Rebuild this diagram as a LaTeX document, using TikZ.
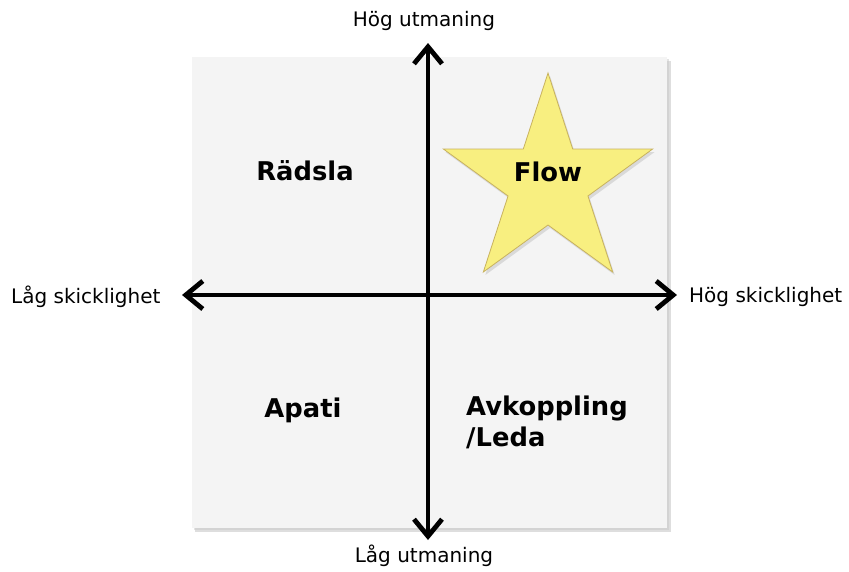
\documentclass[tikz,border=0pt]{standalone}
\usepackage{fontspec}
\setmainfont{DejaVu Sans}
\usetikzlibrary{arrows.meta}
\definecolor{panel}{HTML}{F4F4F4}
\definecolor{panelshadow}{HTML}{C8C8C8}
\definecolor{staryellow}{HTML}{F8EF80}
\definecolor{staredge}{HTML}{C8B25E}
\tikzset{barbtip/.tip={Straight Barb[length=17pt,width=28pt,line width=4.8pt]}}
\begin{document}
\begin{tikzpicture}[x=1pt,y=-1pt,
  axis/.style={line width=4.8pt, black, barbtip-barbtip},
  axislabel/.style={font=\fontsize{20}{24}\selectfont, inner sep=0pt},
  quad/.style={font=\fontsize{25.8}{31}\selectfont\bfseries, inner sep=0pt, align=left}]
\useasboundingbox (0,0) rectangle (849,571);
% panel with shadow
\fill[panelshadow, opacity=0.6] (195,61) rectangle (671,532);
\fill[panelshadow, opacity=0.5] (194,59) rectangle (669,530);
\fill[panel] (192,57) rectangle (667,528);
% star
\begin{scope}[shift={(550,186)}]
\fill[black!25, opacity=0.5] (90:110pt)
  \foreach \k in {1,...,9} { -- ({90+36*\k}:{ifthenelse(mod(\k,2)==1,42,110)*1pt}) } -- cycle;
\end{scope}
\begin{scope}[shift={(548,183)}]
\filldraw[fill=staryellow, draw=staredge, line width=0.8pt, line join=miter] (90:110pt)
  \foreach \k in {1,...,9} { -- ({90+36*\k}:{ifthenelse(mod(\k,2)==1,42,110)*1pt}) } -- cycle;
\end{scope}
% axes
\coordinate (top) at (428,43);
\coordinate (bottom) at (428,540);
\coordinate (left) at (182,295);
\coordinate (right) at (677,295);
\draw[axis] (top) -- (bottom);
\draw[axis] (left) -- (right);
% axis labels
\node[axislabel] (hu) at (424,21) {Hög utmaning};
\node[axislabel] (lu) at (424,556) {Låg utmaning};
\node[axislabel, anchor=west] (ls) at (11,297) {Låg skicklighet};
\node[axislabel, anchor=west] (hs) at (689,297) {Hög skicklighet};
% quadrant labels
\node[quad] (radsla) at (305,171) {Rädsla};
\node[quad] (flow) at (548,172) {Flow};
\node[quad] (apati) at (303,410) {Apati};
\node[quad, anchor=north west] (avk) at (466,396) {Avkoppling\\/Leda};
\end{tikzpicture}
\end{document}
